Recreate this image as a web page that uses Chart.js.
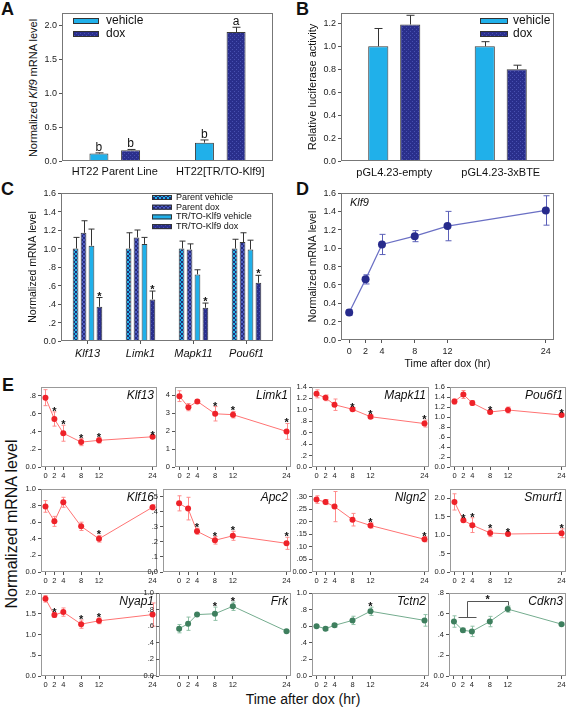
<!DOCTYPE html>
<html>
<head>
<meta charset="utf-8">
<script src="https://cdn.jsdelivr.net/npm/chart.js@4/dist/chart.umd.min.js"></script>
<style>
  body { margin: 0; background: #fff; }
  #fig { position: relative; width: 567px; height: 707px; overflow: hidden; background: #fff;
         font-family: 'Liberation Sans', Arial, sans-serif; color: #111; }
  #fig canvas { position: absolute; }
  .lbl { position: absolute; font-weight: bold; font-size: 18px; line-height: 1; }
  .rot { position: absolute; white-space: nowrap; line-height: 1; transform: translate(-50%, -50%) rotate(-90deg); }
  .hor { position: absolute; white-space: nowrap; line-height: 1; transform: translate(-50%, -50%); }
  .ytk { position: absolute; white-space: nowrap; line-height: 1; color: #222; transform: translateY(-50%); z-index: 2; }
</style>
</head>
<body>
<div id="fig">
  <div class="lbl" style="left:1px;top:0px">A</div>
  <div class="lbl" style="left:296px;top:0px">B</div>
  <div class="lbl" style="left:1px;top:180px">C</div>
  <div class="lbl" style="left:296px;top:180px">D</div>
  <div class="lbl" style="left:2px;top:376px">E</div>
  <div class="rot" style="left:33px;top:88px;font-size:11px">Normalized <i>Klf9</i> mRNA level</div>
  <div class="rot" style="left:12px;top:524px;font-size:16px">Normalized mRNA level</div>
  <div class="hor" style="left:303px;top:699px;font-size:14px">Time after dox (hr)</div>
</div>
<script>
// ---- panel A
const aGroups = ['HT22 Parent Line', 'HT22[TR/TO-Klf9]'];
const aVehicle = [0.11, 0.27];
const aVehicleErr = [0.01, 0.04];
const aDox = [0.16, 1.90];
const aDoxErr = [0.01, 0.07];
const aVehicleLetters = ['b', 'b'];
const aDoxLetters = ['b', 'a'];

// ---- panel B
const bGroups = ['pGL4.23-empty', 'pGL4.23-3xBTE'];
const bVehicle = [1.00, 1.00];
const bVehicleErr = [0.155, 0.04];
const bDox = [1.19, 0.80];
const bDoxErr = [0.08, 0.035];

// ---- panel C
const cGenes = ['Klf13', 'Limk1', 'Mapk11', 'Pou6f1'];
const cParentVeh = [1.00, 1.00, 1.00, 1.00];
const cParentVehErr = [0.12, 0.17, 0.08, 0.10];
const cParentDox = [1.17, 1.12, 0.99, 1.07];
const cParentDoxErr = [0.13, 0.08, 0.06, 0.10];
const cTrVeh = [1.03, 1.05, 0.72, 0.99];
const cTrVehErr = [0.18, 0.07, 0.05, 0.10];
const cTrDox = [0.37, 0.45, 0.36, 0.63];
const cTrDoxErr = [0.10, 0.09, 0.05, 0.08];
const cTrDoxStars = ['*', '*', '*', '*'];

// ---- panel D
const timePts = [0, 2, 4, 8, 12, 24];
const dKlf9 = [0.30, 0.66, 1.04, 1.13, 1.24, 1.41];
const dKlf9Err = [0.03, 0.05, 0.11, 0.06, 0.16, 0.16];

// ---- panel E
const klf13 = [0.78, 0.54, 0.38, 0.28, 0.30, 0.34];
const klf13Err = [0.09, 0.08, 0.09, 0.04, 0.03, 0.01];
const klf13Stars = [2, 4, 8, 12, 24];
const limk1 = [3.94, 3.33, 3.65, 2.96, 2.91, 1.98];
const limk1Err = [0.30, 0.20, 0.10, 0.40, 0.18, 0.44];
const limk1Stars = [8, 12, 24];
const mapk11 = [1.28, 1.21, 1.09, 1.01, 0.88, 0.76];
const mapk11Err = [0.07, 0.05, 0.10, 0.03, 0.03, 0.06];
const mapk11Stars = [8, 12, 24];
const pou6f1 = [1.31, 1.45, 1.28, 1.10, 1.14, 1.04];
const pou6f1Err = [0.05, 0.08, 0.05, 0.03, 0.06, 0.02];
const pou6f1Stars = [8, 24];
const klf16 = [0.79, 0.61, 0.84, 0.55, 0.40, 0.78];
const klf16Err = [0.07, 0.06, 0.06, 0.05, 0.04, 0.03];
const klf16Stars = [12];
const apc2 = [0.455, 0.42, 0.27, 0.21, 0.24, 0.19];
const apc2Err = [0.05, 0.075, 0.02, 0.025, 0.03, 0.04];
const apc2Stars = [4, 8, 12, 24];
const nlgn2 = [0.288, 0.278, 0.26, 0.208, 0.185, 0.13];
const nlgn2Err = [0.015, 0.01, 0.06, 0.025, 0.01, 0.01];
const nlgn2Stars = [12, 24];
const smurf1 = [1.90, 1.40, 1.27, 1.06, 1.03, 1.05];
const smurf1Err = [0.22, 0.05, 0.20, 0.10, 0.03, 0.12];
const smurf1Stars = [2, 4, 8, 12, 24];
const nyap1 = [1.86, 1.47, 1.54, 1.25, 1.33, 1.48];
const nyap1Err = [0.08, 0.06, 0.10, 0.10, 0.07, 0.28];
const nyap1Stars = [2, 8, 12];
const frk = [0.57, 0.63, 0.74, 0.75, 0.84, 0.54];
const frkErr = [0.05, 0.08, 0.01, 0.08, 0.05, 0.01];
const frkStars = [8, 12];
const tctn2 = [0.60, 0.57, 0.61, 0.67, 0.78, 0.67];
const tctn2Err = [0.01, 0.02, 0.02, 0.05, 0.05, 0.07];
const tctn2Stars = [12];
const cdkn3 = [0.525, 0.44, 0.43, 0.525, 0.645, 0.50];
const cdkn3Err = [0.055, 0.02, 0.05, 0.05, 0.03, 0.01];
const cdkn3Stars = [];

const FONT = "'Liberation Sans', Arial, sans-serif";
Chart.defaults.font.family = FONT;
Chart.defaults.color = '#222';

const PT = 10, PR = 10;
const CYAN = '#20b0ea';
const RED = { line: '#ff7373', pt: '#ee2229', err: '#ff8c8c' };
const GREEN = { line: '#74ac8e', pt: '#3e7f5e', err: '#8fc0a6' };
const fig = document.getElementById('fig');

function mkCanvas(box, yW, xH) {
  const c = document.createElement('canvas');
  const w = yW + box.w + PR, h = PT + box.h + xH;
  c.width = w; c.height = h;
  c.style.left = (box.l - yW) + 'px';
  c.style.top = (box.t - PT) + 'px';
  c.style.width = w + 'px'; c.style.height = h + 'px';
  fig.appendChild(c);
  return c;
}

// y tick labels for panels A-D, placed from the chart's own y scale
function htmlTicks(chart, size) {
  const ys = chart.scales.y, c = chart.canvas;
  const left = parseFloat(c.style.left), top = parseFloat(c.style.top);
  ys.ticks.forEach((t, i) => {
    const d = document.createElement('div');
    d.className = 'ytk';
    d.textContent = t.label;
    d.style.fontSize = size + 'px';
    d.style.right = (567 - (left + ys.right - 5)) + 'px';
    d.style.top = (top + ys.getPixelForTick(i)) + 'px';
    fig.appendChild(d);
  });
}

// small tiled fills for the bars
function tile(bg, fg, cells, n) {
  const c = document.createElement('canvas');
  c.width = c.height = n;
  const g = c.getContext('2d');
  g.fillStyle = bg; g.fillRect(0, 0, n, n);
  g.fillStyle = fg;
  cells.forEach(([x, y, s]) => g.fillRect(x, y, s, s));
  return g.createPattern(c, 'repeat');
}
const DOX = tile('#2a2f8c', '#4850b0', [[0, 0, 1], [2, 2, 1]], 4);
const CHECK_CYAN = tile('#22b2e6', '#1f2f78', [[0, 0, 2], [2, 2, 2]], 4);
const CHECK_NAVY = tile('#262b7e', '#4d5cc2', [[0, 0, 2], [2, 2, 2]], 4);

const fmtFull = d => v => v.toFixed(d);
const fmtDec = d => v => {
  if (Math.abs(v) < 1e-9) return d === 0 ? '0' : (0).toFixed(d);
  const s = v.toFixed(d);
  return v < 1 ? s.slice(1) : s;
};
function stepTicks(step, top) {
  const out = [];
  for (let i = 0; i * step <= top + 1e-9; i++) out.push({ value: Math.round(i * step * 1e6) / 1e6 });
  return out;
}

function yAxis(max, step, top, fmt, size, yW, title) {
  return {
    min: 0, max,
    afterBuildTicks: s => { s.ticks = stepTicks(step, top); },
    afterFit: s => { s.width = yW; },
    ticks: { display: false, font: { size }, callback: v => fmt(v) },
    grid: { drawOnChartArea: false, tickLength: 3, color: '#555' },
    border: { display: false },
    title: title ? { display: true, text: title.text, font: { size: title.size }, color: '#111' } : { display: false }
  };
}
function xTime(xMin, size, xH, pad, title) {
  return {
    type: 'linear', min: xMin, max: 25,
    afterBuildTicks: s => { s.ticks = timePts.map(v => ({ value: v })); },
    afterFit: s => { s.height = xH; },
    ticks: { font: { size }, color: '#222', padding: pad, autoSkip: false, maxRotation: 0, callback: v => String(v) },
    grid: { drawOnChartArea: false, tickLength: 3, color: '#555' },
    border: { display: false },
    title: title ? { display: true, text: title.text, font: { size: title.size }, color: '#111' } : { display: false }
  };
}
function xCat(font, xH, pad, ticks) {
  return {
    type: 'category',
    afterFit: s => { s.height = xH; },
    ticks: { font, color: '#111', padding: pad },
    grid: ticks ? { display: true, drawOnChartArea: false, offset: false, tickLength: 3, color: '#555' }
                : { display: false, drawTicks: false },
    border: { display: false }
  };
}

// frame, error bars, tags (letters / asterisks), legend, in-plot label, bracket
function drawErr(chart, o) {
  const ctx = chart.ctx, ys = chart.scales.y;
  chart.data.datasets.forEach((ds, i) => {
    if (!ds.err) return;
    const meta = chart.getDatasetMeta(i);
    ctx.save();
    ctx.strokeStyle = ds.errColor || '#333';
    ctx.lineWidth = 1;
    meta.data.forEach((el, j) => {
      const raw = ds.data[j], v = typeof raw === 'object' ? raw.y : raw, e = ds.err[j];
      if (!e) return;
      const x = Math.round(el.x) + 0.5, c = o.cap / 2;
      const top = ys.getPixelForValue(v + e);
      const bot = o.upOnly ? ys.getPixelForValue(v) : ys.getPixelForValue(v - e);
      ctx.beginPath();
      ctx.moveTo(x, bot); ctx.lineTo(x, top);
      ctx.moveTo(x - c, top); ctx.lineTo(x + c, top);
      if (!o.upOnly) { ctx.moveTo(x - c, bot); ctx.lineTo(x + c, bot); }
      ctx.stroke();
    });
    ctx.restore();
  });
}
const extras = {
  id: 'extras',
  beforeDatasetsDraw(chart, args, o) { if (!o.upOnly) drawErr(chart, o); },
  afterDatasetsDraw(chart, args, o) {
    if (o.upOnly) drawErr(chart, o);
    const { ctx, chartArea: a } = chart, ys = chart.scales.y;
    ctx.save();
    try {
      ctx.strokeStyle = o.frame || '#888'; ctx.lineWidth = 1;
      ctx.strokeRect(Math.round(a.left) + 0.5, Math.round(a.top) + 0.5,
                     Math.round(a.right - a.left) - 1, Math.round(a.bottom - a.top) - 1);
      if (o.yFont) {
        ctx.fillStyle = '#222'; ctx.font = o.yFont; ctx.textAlign = 'right'; ctx.textBaseline = 'middle';
        ys.ticks.forEach((t, i) => ctx.fillText(t.label, ys.right - 5, ys.getPixelForTick(i)));
      }
      ctx.fillStyle = '#111'; ctx.textAlign = 'center'; ctx.textBaseline = 'alphabetic';
      chart.data.datasets.forEach((ds, i) => {
        if (!ds.tags) return;
        chart.getDatasetMeta(i).data.forEach((el, j) => {
          const t = ds.tags[j]; if (!t) return;
          const raw = ds.data[j], v = typeof raw === 'object' ? raw.y : raw;
          const y = ys.getPixelForValue(v + (ds.err ? ds.err[j] : 0));
          ctx.font = t === '*' ? o.starFont : o.tagFont;
          ctx.fillText(t, el.x, t === '*' ? y + o.starDy : y - 2);
        });
      });
      if (o.legend) {
        const L = o.legend;
        chart.data.datasets.forEach((ds, i) => {
          const x = a.left + L.x, yc = a.top + L.y + i * L.gap;
          ctx.fillStyle = ds.backgroundColor;
          ctx.fillRect(x, yc - L.h / 2, L.w, L.h);
          ctx.strokeStyle = '#333';
          ctx.strokeRect(x + 0.5, yc - L.h / 2 + 0.5, L.w - 1, L.h - 1);
          ctx.fillStyle = '#111'; ctx.font = L.font; ctx.textAlign = 'left'; ctx.textBaseline = 'middle';
          ctx.fillText(ds.label, x + L.w + L.tx, yc);
        });
      }
      if (o.note) {
        const n = o.note;
        ctx.fillStyle = '#111'; ctx.font = n.font; ctx.textAlign = n.align; ctx.textBaseline = 'alphabetic';
        ctx.fillText(n.text, n.align === 'right' ? a.right - n.dx : a.left + n.dx, a.top + n.dy);
      }
      if (o.bracket) {
        const b = o.bracket, xs = chart.scales.x;
        const px = v => Math.round(xs.getPixelForValue(v)) + 0.5, py = v => Math.round(ys.getPixelForValue(v)) + 0.5;
        ctx.strokeStyle = '#555'; ctx.lineWidth = 1;
        ctx.beginPath();
        ctx.moveTo(px(b.foot[0]), py(b.footY)); ctx.lineTo(px(b.foot[1]), py(b.footY));
        ctx.moveTo(px(b.stem), py(b.footY)); ctx.lineTo(px(b.stem), py(b.topY));
        ctx.lineTo(px(b.end), py(b.topY)); ctx.lineTo(px(b.end), py(b.endY));
        ctx.stroke();
        ctx.fillStyle = '#111'; ctx.font = o.starFont; ctx.textAlign = 'center'; ctx.textBaseline = 'alphabetic';
        ctx.fillText('*', xs.getPixelForValue((b.stem + b.end) / 2), py(b.topY) + 1);
      }
    } finally {
      ctx.restore();
    }
  }
};

function opts(scales, ex) {
  return {
    responsive: false, animation: false, devicePixelRatio: 1, events: [],
    layout: { padding: { top: PT, right: PR, left: 0, bottom: 0 } },
    scales,
    plugins: { legend: { display: false }, tooltip: { enabled: false }, extras: ex }
  };
}
const barDs = (label, data, err, fill, extra) => Object.assign({
  label, data, err, backgroundColor: fill, borderColor: '#3a3a3a', borderWidth: 1,
  errColor: '#333'
}, extra);

// ---- A
const chartA = new Chart(mkCanvas({ l: 62, t: 13, w: 211, h: 148 }, 40, 26), {
  type: 'bar',
  data: { labels: aGroups, datasets: [
    barDs('vehicle', aVehicle, aVehicleErr, CYAN, { tags: aVehicleLetters, categoryPercentage: 0.6, barPercentage: 0.6 }),
    barDs('dox', aDox, aDoxErr, DOX, { tags: aDoxLetters, categoryPercentage: 0.6, barPercentage: 0.6 })
  ] },
  options: opts({
    x: xCat({ size: 11 }, 26, 4, false),
    y: yAxis(2.18, 0.5, 2.0, fmtFull(1), 9, 40, null)
  }, { upOnly: true, cap: 8, tagFont: '12px ' + FONT, starFont: 'bold 12px ' + FONT, starDy: 2, frame: '#777',
       legend: { x: 11, y: 8, w: 26, h: 6, gap: 13, tx: 7, font: '12px ' + FONT } }),
  plugins: [extras]
});
htmlTicks(chartA, 9);

// ---- B
const chartB = new Chart(mkCanvas({ l: 341, t: 13, w: 213, h: 148 }, 39, 26), {
  type: 'bar',
  data: { labels: bGroups, datasets: [
    barDs('vehicle', bVehicle, bVehicleErr, CYAN, { categoryPercentage: 0.6, barPercentage: 0.63 }),
    barDs('dox', bDox, bDoxErr, DOX, { categoryPercentage: 0.6, barPercentage: 0.63 })
  ] },
  options: opts({
    x: xCat({ size: 11 }, 26, 5, false),
    y: yAxis(1.29, 0.2, 1.2, fmtFull(1), 9, 39, { text: 'Relative luciferase activity', size: 11 })
  }, { upOnly: true, cap: 8, tagFont: '12px ' + FONT, starFont: 'bold 12px ' + FONT, starDy: 2, frame: '#777',
       legend: { x: 139, y: 8, w: 28, h: 6, gap: 13, tx: 5, font: '12px ' + FONT } }),
  plugins: [extras]
});
htmlTicks(chartB, 9);

// ---- C
const cPct = { categoryPercentage: 0.6, barPercentage: 0.72 };
const chartC = new Chart(mkCanvas({ l: 61, t: 193, w: 212, h: 148 }, 38, 24), {
  type: 'bar',
  data: { labels: cGenes, datasets: [
    barDs('Parent vehicle', cParentVeh, cParentVehErr, CHECK_CYAN, cPct),
    barDs('Parent dox', cParentDox, cParentDoxErr, CHECK_NAVY, cPct),
    barDs('TR/TO-Klf9 vehicle', cTrVeh, cTrVehErr, CYAN, cPct),
    barDs('TR/TO-Klf9 dox', cTrDox, cTrDoxErr, DOX, Object.assign({ tags: cTrDoxStars }, cPct))
  ] },
  options: opts({
    x: xCat({ size: 11, style: 'italic' }, 24, 3, true),
    y: yAxis(1.6, 0.2, 1.6, fmtDec(1), 9, 38, { text: 'Normalized mRNA level', size: 10.5 })
  }, { upOnly: true, cap: 6, tagFont: '12px ' + FONT, starFont: 'bold 11px ' + FONT, starDy: 2, frame: '#777',
       legend: { x: 91, y: 4.5, w: 20, h: 5, gap: 9.7, tx: 4, font: '9px ' + FONT } }),
  plugins: [extras]
});
htmlTicks(chartC, 9);

// ---- D
const chartD = new Chart(mkCanvas({ l: 341, t: 193, w: 213, h: 147 }, 38, 34), {
  type: 'line',
  data: { datasets: [{
    data: timePts.map((t, i) => ({ x: t, y: dKlf9[i] })), err: dKlf9Err, errColor: '#5b60b8',
    borderColor: '#6a6fc4', borderWidth: 1.2, pointRadius: 4,
    pointBackgroundColor: '#272b8c', pointBorderColor: '#272b8c', pointBorderWidth: 0
  }] },
  options: opts({
    x: xTime(-1, 9, 34, 3, { text: 'Time after dox (hr)', size: 10.5 }),
    y: yAxis(1.6, 0.2, 1.6, fmtFull(1), 9, 38, { text: 'Normalized mRNA level', size: 10.5 })
  }, { upOnly: false, cap: 6, frame: '#777',
       note: { text: 'Klf9', font: 'italic 11px ' + FONT, align: 'left', dx: 9, dy: 13 } }),
  plugins: [extras]
});
htmlTicks(chartD, 9);

// ---- E (12 small time-course panels)
const ePanels = [
  { name: 'Klf13',  y: klf13,  err: klf13Err,  stars: klf13Stars,  c: RED,   box: { l: 41,  t: 387, w: 116, h: 80 }, xMin: -1,   max: 0.9,  step: 0.2,  top: 0.8,  d: 1 },
  { name: 'Limk1',  y: limk1,  err: limk1Err,  stars: limk1Stars,  c: RED,   box: { l: 175, t: 387, w: 116, h: 80 }, xMin: -1,   max: 4.45, step: 1,    top: 4,    d: 0 },
  { name: 'Mapk11', y: mapk11, err: mapk11Err, stars: mapk11Stars, c: RED,   box: { l: 312, t: 387, w: 117, h: 80 }, xMin: -1,   max: 1.4,  step: 0.2,  top: 1.4,  d: 1 },
  { name: 'Pou6f1', y: pou6f1, err: pou6f1Err, stars: pou6f1Stars, c: RED,   box: { l: 450, t: 387, w: 116, h: 80 }, xMin: -1,   max: 1.6,  step: 0.2,  top: 1.6,  d: 1 },
  { name: 'Klf16',  y: klf16,  err: klf16Err,  stars: klf16Stars,  c: RED,   box: { l: 41,  t: 489, w: 116, h: 83 }, xMin: -1,   max: 1.0,  step: 0.2,  top: 1.0,  d: 1 },
  { name: 'Apc2',   y: apc2,   err: apc2Err,   stars: apc2Stars,   c: RED,   box: { l: 163, t: 489, w: 128, h: 83 }, xMin: -3.6, max: 0.55, step: 0.1,  top: 0.5,  d: 1 },
  { name: 'Nlgn2',  y: nlgn2,  err: nlgn2Err,  stars: nlgn2Stars,  c: RED,   box: { l: 312, t: 489, w: 117, h: 83 }, xMin: -1,   max: 0.33, step: 0.05, top: 0.3,  d: 2 },
  { name: 'Smurf1', y: smurf1, err: smurf1Err, stars: smurf1Stars, c: RED,   box: { l: 450, t: 489, w: 116, h: 83 }, xMin: -1,   max: 2.25, step: 0.5,  top: 2.0,  d: 1 },
  { name: 'Nyap1',  y: nyap1,  err: nyap1Err,  stars: nyap1Stars,  c: RED,   box: { l: 41,  t: 593, w: 116, h: 83 }, xMin: -1,   max: 2.0,  step: 0.5,  top: 2.0,  d: 1 },
  { name: 'Frk',    y: frk,    err: frkErr,    stars: frkStars,    c: GREEN, box: { l: 159, t: 593, w: 132, h: 83 }, xMin: -4.5, max: 1.0,  step: 0.2,  top: 1.0,  d: 1 },
  { name: 'Tctn2',  y: tctn2,  err: tctn2Err,  stars: tctn2Stars,  c: GREEN, box: { l: 312, t: 593, w: 117, h: 83 }, xMin: -1,   max: 1.0,  step: 0.2,  top: 1.0,  d: 1 },
  { name: 'Cdkn3',  y: cdkn3,  err: cdkn3Err,  stars: cdkn3Stars,  c: GREEN, box: { l: 449, t: 593, w: 117, h: 83 }, xMin: -1.1, max: 0.8,  step: 0.2,  top: 0.8,  d: 1,
    bracket: { foot: [1, 5], footY: 0.566, stem: 3, topY: 0.72, end: 12, endY: 0.68 } }
];

ePanels.forEach(p => {
  new Chart(mkCanvas(p.box, 26, 16), {
    type: 'line',
    data: { datasets: [{
      data: timePts.map((t, i) => ({ x: t, y: p.y[i] })), err: p.err, errColor: p.c.err,
      tags: timePts.map(t => p.stars.includes(t) ? '*' : ''),
      borderColor: p.c.line, borderWidth: 1, pointRadius: 3,
      pointBackgroundColor: p.c.pt, pointBorderColor: p.c.pt, pointBorderWidth: 0
    }] },
    options: opts({
      x: xTime(p.xMin, 7.5, 16, 1, null),
      y: yAxis(p.max, p.step, p.top, fmtDec(p.d), 7.5, 26, null)
    }, { upOnly: false, cap: 4, yFont: '7.5px ' + FONT, frame: '#999', starFont: 'bold 11px ' + FONT, starDy: 3,
         note: { text: p.name, font: 'italic 12px ' + FONT, align: 'right', dx: 3, dy: 12 },
         bracket: p.bracket }),
    plugins: [extras]
  });
});
</script>
</body>
</html>
